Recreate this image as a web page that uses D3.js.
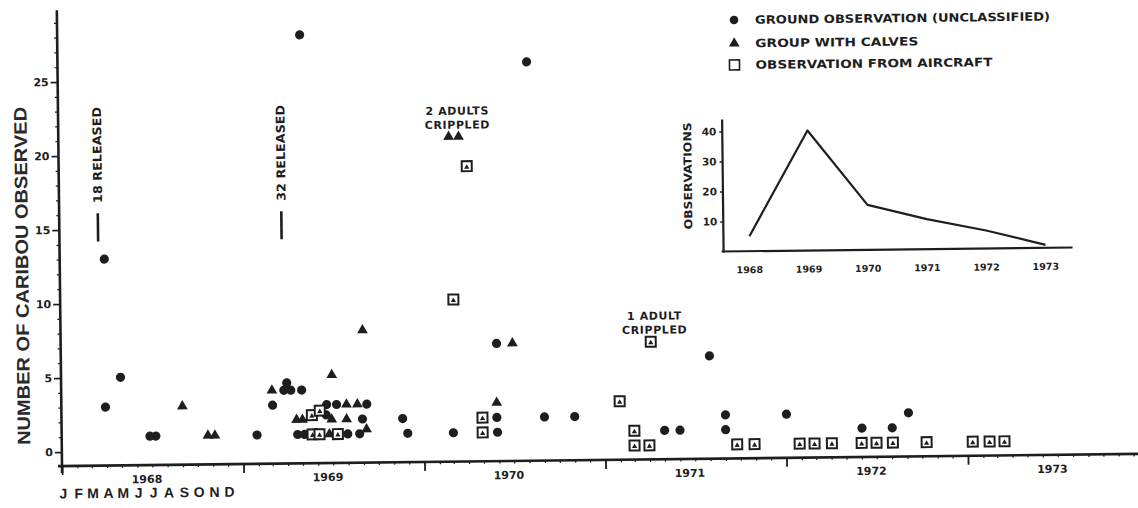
<!DOCTYPE html>
<html>
<head>
<meta charset="utf-8">
<script src="https://cdn.jsdelivr.net/npm/d3@7"></script>
<style>
  body { margin: 0; background: #fff; }
  svg { display: block; }
</style>
</head>
<body>
<script>
// ground observations (unclassified): [date, caribou seen]
const ground = [
  ["1968-03-31", 13], ["1968-03-30", 3], ["1968-04-30", 5], ["1968-06-27", 1], ["1968-07-09", 1],
  ["1969-01-29", 1], ["1969-03-02", 3], ["1969-03-25", 4], ["1969-03-31", 4.5], ["1969-04-08", 4],
  ["1969-04-30", 4], ["1969-05-04", 28], ["1969-06-19", 3], ["1969-07-09", 3], ["1969-09-08", 3],
  ["1969-08-30", 2], ["1969-06-18", 2.3], ["1969-04-21", 1], ["1969-05-05", 1], ["1969-07-31", 1],
  ["1969-08-24", 1], ["1969-11-19", 2], ["1969-11-29", 1],
  ["1970-03-01", 1], ["1970-05-28", 2], ["1970-05-29", 1], ["1970-05-29", 7], ["1970-08-04", 26],
  ["1970-09-01", 2], ["1970-11-01", 2],
  ["1971-05-01", 1], ["1971-06-01", 1], ["1971-08-01", 6], ["1971-09-01", 2], ["1971-09-01", 1],
  ["1972-01-02", 2], ["1972-06-02", 1], ["1972-08-02", 1], ["1972-09-04", 2]
];

// groups with calves
const calves = [
  ["1968-09-01", 3], ["1968-10-22", 1], ["1968-11-05", 1],
  ["1969-03-01", 4], ["1969-06-30", 5], ["1969-09-01", 8], ["1969-07-29", 3], ["1969-08-20", 3],
  ["1969-04-19", 2], ["1969-05-01", 2], ["1969-06-29", 2], ["1969-07-29", 2], ["1969-06-24", 1],
  ["1969-09-07", 1.3],
  ["1970-05-28", 3], ["1970-06-30", 7], ["1970-02-26", 21], ["1970-03-18", 21]
];

// observations from aircraft
const aircraft = [
  ["1969-05-21", 1], ["1969-06-04", 1], ["1969-07-11", 1], ["1969-05-20", 2.3], ["1969-06-05", 2.6],
  ["1970-03-04", 10], ["1970-04-03", 19], ["1970-04-29", 2], ["1970-04-29", 1],
  ["1971-01-31", 3], ["1971-03-01", 1], ["1971-03-01", 0], ["1971-03-31", 0], ["1971-04-05", 7],
  ["1971-09-24", 0], ["1971-10-29", 0],
  ["1972-01-28", 0], ["1972-02-27", 0], ["1972-04-02", 0], ["1972-06-01", 0], ["1972-07-01", 0],
  ["1972-08-03", 0], ["1972-10-10", 0],
  ["1973-01-11", 0], ["1973-02-14", 0], ["1973-03-16", 0]
];

const years = [1968, 1969, 1970, 1971, 1972, 1973];
const months = ["J", "F", "M", "A", "M", "J", "J", "A", "S", "O", "N", "D"];
const yTicks = [0, 5, 10, 15, 20, 25];
const legendLabels = ["GROUND OBSERVATION (UNCLASSIFIED)", "GROUP WITH CALVES", "OBSERVATION FROM AIRCRAFT"];
const releases = [["1968-03-19", "18 RELEASED"], ["1969-03-24", "32 RELEASED"]];
const notes = [["1970-03-08", 21, "2 ADULTS", "CRIPPLED"], ["1971-04-05", 7, "1 ADULT", "CRIPPLED"]];

// inset: observations per year
const insetYears = [1968, 1969, 1970, 1971, 1972, 1973];
const insetObs = [5, 40, 15, 10, 6, 1];
const insetTicks = [10, 20, 30, 40];

const ink = "#1e1e1e";
const font = "'DejaVu Sans', sans-serif";
const parse = d3.timeParse("%Y-%m-%d");

const svg = d3.select("body").append("svg").attr("width", 1138).attr("height", 508);
// the scanned page sits slightly askew
const g = svg.append("g").attr("transform", "rotate(-0.65,62,466)");

const x = d3.scaleTime().domain([new Date(1968, 0, 1), new Date(1974, 0, 1)]).range([62, 1149]);
const y = d3.scaleLinear().domain([0, 25]).range([452, 82]);
const baseY = y(-0.95);

// axes lines
g.append("line").attr("x1", 62).attr("x2", 62).attr("y1", y(29.85)).attr("y2", baseY + 7)
  .attr("stroke", ink).attr("stroke-width", 2.6);
g.append("line").attr("x1", 58).attr("x2", 1150).attr("y1", baseY).attr("y2", baseY)
  .attr("stroke", ink).attr("stroke-width", 2.6);

// y ticks
const yAx = g.append("g").attr("transform", "translate(62,0)")
  .call(d3.axisLeft(y).tickValues(yTicks).tickSize(7).tickPadding(2));
yAx.select(".domain").remove();
yAx.selectAll("line").attr("stroke", ink).attr("stroke-width", 1.6);
yAx.selectAll("text").attr("font-family", font).attr("font-weight", "bold")
  .attr("font-size", 11).attr("fill", ink);

const yMin = g.append("g").attr("transform", "translate(62,0)")
  .call(d3.axisLeft(y).tickValues(d3.range(0, 30)).tickSize(3).tickFormat(""));
yMin.select(".domain").remove();
yMin.selectAll("line").attr("stroke", ink).attr("stroke-width", 1.2);

// x ticks: years and months
const xAx = g.append("g").attr("transform", `translate(0,${baseY})`)
  .call(d3.axisBottom(x).ticks(d3.timeYear.every(1)).tickSize(9).tickFormat(""));
xAx.select(".domain").remove();
xAx.selectAll("line").attr("stroke", ink).attr("stroke-width", 1.8);

const xMin = g.append("g").attr("transform", `translate(0,${baseY})`)
  .call(d3.axisBottom(x).ticks(d3.timeMonth.every(1)).tickSize(2.5).tickFormat(""));
xMin.select(".domain").remove();
xMin.selectAll("line").attr("stroke", ink).attr("stroke-width", 1.2);

g.selectAll(".year").data(years).enter().append("text")
  .attr("x", d => x(new Date(d, 5, 20)))
  .attr("y", baseY + 18)
  .attr("text-anchor", "middle")
  .attr("font-family", font).attr("font-weight", "bold").attr("font-size", 11)
  .attr("fill", ink)
  .text(d => d);

g.selectAll(".month").data(months).enter().append("text")
  .attr("x", (d, i) => x(new Date(1968, i, 1)) + 1)
  .attr("y", baseY + 32.5)
  .attr("text-anchor", "middle")
  .attr("font-family", "'Liberation Sans', Arial, sans-serif").attr("font-weight", "bold")
  .attr("font-size", 14).attr("fill", ink)
  .text(d => d);

// y axis title
g.append("text")
  .attr("transform", "translate(24,275.5) rotate(-90)")
  .attr("dy", "0.36em")
  .attr("text-anchor", "middle")
  .attr("font-family", "'Liberation Sans', Arial, sans-serif").attr("font-weight", "bold")
  .attr("font-size", 18).attr("fill", "#2a2a2a")
  .attr("textLength", 338).attr("lengthAdjust", "spacingAndGlyphs")
  .text("NUMBER OF CARIBOU OBSERVED");

// markers
const tri = d3.symbol().type(d3.symbolTriangle).size(50);
const smallTri = d3.symbol().type(d3.symbolTriangle).size(12);

g.selectAll(".ground").data(ground).enter().append("circle")
  .attr("cx", d => x(parse(d[0])))
  .attr("cy", d => y(d[1]))
  .attr("r", 4.6)
  .attr("fill", ink);

g.selectAll(".calves").data(calves).enter().append("path")
  .attr("d", tri)
  .attr("transform", d => `translate(${x(parse(d[0]))},${y(d[1])})`)
  .attr("fill", ink);

const sq = g.selectAll(".air").data(aircraft).enter().append("g")
  .attr("transform", d => `translate(${x(parse(d[0]))},${y(d[1])})`);
sq.append("rect")
  .attr("x", -5).attr("y", -5).attr("width", 10).attr("height", 10)
  .attr("fill", "#fff").attr("stroke", ink).attr("stroke-width", 2);
sq.append("path").attr("d", smallTri).attr("transform", "translate(0,1)").attr("fill", ink);

// release annotations
releases.forEach(([d, label]) => {
  const xx = x(parse(d));
  g.append("line").attr("x1", xx).attr("x2", xx).attr("y1", y(14.2)).attr("y2", y(16.1))
    .attr("stroke", ink).attr("stroke-width", 2.6);
  g.append("text")
    .attr("transform", `translate(${xx},${y(16.8)}) rotate(-90)`)
    .attr("dy", "0.36em")
    .attr("font-family", font).attr("font-weight", "bold").attr("font-size", 12)
    .attr("fill", ink)
    .attr("textLength", 96).attr("lengthAdjust", "spacingAndGlyphs")
    .text(label);
});

// crippled notes
notes.forEach(([d, v, l1, l2]) => {
  const xx = x(parse(d)) + 4;
  [l1, l2].forEach((t, i) => {
    g.append("text")
      .attr("x", xx).attr("y", y(v) + (i === 0 ? -22 : -8))
      .attr("text-anchor", "middle")
      .attr("font-family", font).attr("font-weight", "bold").attr("font-size", 11)
      .attr("letter-spacing", 0.6)
      .attr("fill", ink)
      .text(t);
  });
});

// legend
const legRows = [27.6, 51, 72.6];
const leg = g.selectAll(".legend").data(legendLabels).enter().append("g")
  .attr("transform", (d, i) => `translate(739,${legRows[i]})`);
leg.filter((d, i) => i === 0).append("circle").attr("r", 4.3).attr("fill", ink);
leg.filter((d, i) => i === 1).append("path").attr("d", tri).attr("fill", ink);
leg.filter((d, i) => i === 2).append("rect")
  .attr("x", -5).attr("y", -5).attr("width", 10).attr("height", 10)
  .attr("fill", "none").attr("stroke", ink).attr("stroke-width", 1.6);
const legLen = [295, 163, 237];
leg.append("text")
  .attr("x", 21).attr("dy", "0.36em")
  .attr("font-family", font).attr("font-weight", "bold").attr("font-size", 11.5)
  .attr("fill", ink)
  .attr("textLength", (d, i) => legLen[i]).attr("lengthAdjust", "spacingAndGlyphs")
  .text(d => d);

// inset chart
const ix = d3.scaleLinear().domain([1968, 1973]).range([752, 1048]);
const iy = d3.scaleLinear().domain([0, 40]).range([259, 139]);

g.append("line").attr("x1", 726).attr("x2", 726).attr("y1", 127).attr("y2", iy(0) + 1)
  .attr("stroke", ink).attr("stroke-width", 2.2);
g.append("line").attr("x1", 724).attr("x2", 1075).attr("y1", iy(0)).attr("y2", iy(0))
  .attr("stroke", ink).attr("stroke-width", 2.2);

const iyAx = g.append("g").attr("transform", "translate(726,0)")
  .call(d3.axisLeft(iy).tickValues(insetTicks).tickSize(3).tickPadding(3));
iyAx.select(".domain").remove();
iyAx.selectAll("line").attr("stroke", ink).attr("stroke-width", 1.4);
iyAx.selectAll("text").attr("font-family", font).attr("font-weight", "bold")
  .attr("font-size", 10.5).attr("fill", ink);

g.selectAll(".iyear").data(insetYears).enter().append("text")
  .attr("x", d => ix(d))
  .attr("y", iy(0) + 22)
  .attr("text-anchor", "middle")
  .attr("font-family", font).attr("font-weight", "bold").attr("font-size", 9.5)
  .attr("fill", ink)
  .text(d => d);

g.append("path")
  .datum(insetYears.map((d, i) => [d, insetObs[i]]))
  .attr("fill", "none").attr("stroke", ink).attr("stroke-width", 2.2)
  .attr("stroke-linejoin", "round")
  .attr("d", d3.line().x(d => ix(d[0])).y(d => iy(d[1])));

g.append("text")
  .attr("transform", "translate(691,183) rotate(-90)")
  .attr("dy", "0.36em")
  .attr("text-anchor", "middle")
  .attr("font-family", font).attr("font-weight", "bold").attr("font-size", 11)
  .attr("fill", ink)
  .attr("textLength", 107).attr("lengthAdjust", "spacingAndGlyphs")
  .text("OBSERVATIONS");
</script>
</body>
</html>
